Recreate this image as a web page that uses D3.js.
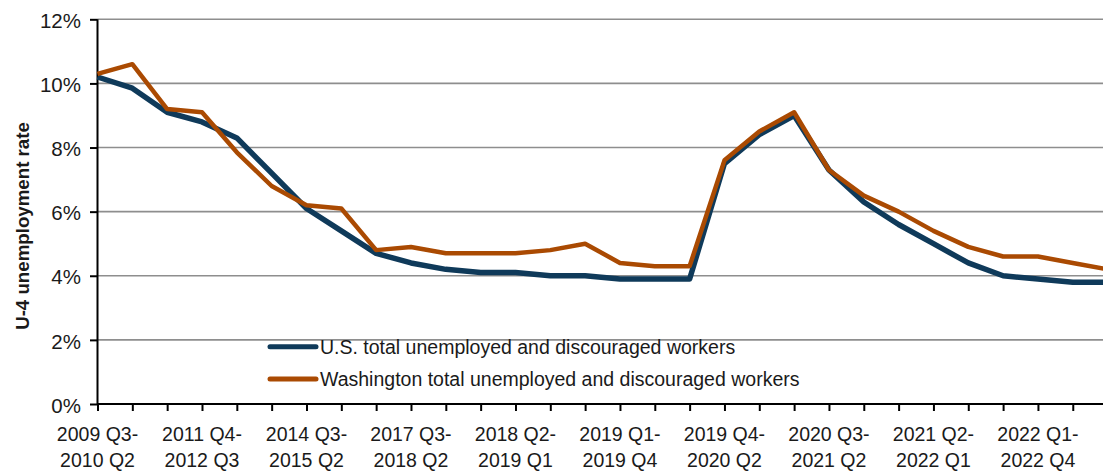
<!DOCTYPE html>
<html>
<head>
<meta charset="utf-8">
<script src="https://cdn.jsdelivr.net/npm/d3@7"></script>
<style>
  html, body { margin: 0; padding: 0; background: #fff; }
  svg { display: block; font-family: "Liberation Sans", Arial, sans-serif; }
</style>
</head>
<body>
<svg id="chart" width="1103" height="473"></svg>
<script>
// ---- Data ----
const categories = [
  "2009 Q3-2010 Q2", "2010 Q2-2011 Q1", "2011 Q1-2011 Q4",
  "2011 Q4-2012 Q3", "2012 Q4-2013 Q3", "2013 Q3-2014 Q2",
  "2014 Q3-2015 Q2", "2015 Q3-2016 Q2", "2016 Q3-2017 Q2",
  "2017 Q3-2018 Q2", "2017 Q4-2018 Q3", "2018 Q1-2018 Q4",
  "2018 Q2-2019 Q1", "2018 Q3-2019 Q2", "2018 Q4-2019 Q3",
  "2019 Q1-2019 Q4", "2019 Q2-2020 Q1", "2019 Q3-2020 Q1",
  "2019 Q4-2020 Q2", "2020 Q1-2020 Q4", "2020 Q2-2021 Q1",
  "2020 Q3-2021 Q2", "2020 Q4-2021 Q3", "2021 Q1-2021 Q4",
  "2021 Q2-2022 Q1", "2021 Q3-2022 Q2", "2021 Q4-2022 Q3",
  "2022 Q1-2022 Q4", "2022 Q2-2023 Q1", "2022 Q3-2023 Q2"
];
const usValues = [
  10.2, 9.85, 9.1, 8.8, 8.3, 7.2, 6.1, 5.4, 4.7, 4.4,
  4.2, 4.1, 4.1, 4.0, 4.0, 3.9, 3.9, 3.9, 7.5, 8.4,
  9.0, 7.3, 6.3, 5.6, 5.0, 4.4, 4.0, 3.9, 3.8, 3.8
];
const waValues = [
  10.3, 10.6, 9.2, 9.1, 7.85, 6.8, 6.2, 6.1, 4.8, 4.9,
  4.7, 4.7, 4.7, 4.8, 5.0, 4.4, 4.3, 4.3, 7.6, 8.5,
  9.1, 7.3, 6.5, 6.0, 5.4, 4.9, 4.6, 4.6, 4.4, 4.2
];
const seriesNames = [
  "U.S. total unemployed and discouraged workers",
  "Washington total unemployed and discouraged workers"
];
const yTicks = [0, 2, 4, 6, 8, 10, 12];
const labelEvery = 3;
const yTitle = "U-4 unemployment rate";

// ---- Layout ----
const svg = d3.select("#chart");
const plotLeft = 97.5, plotRight = 1107.6, plotTop = 19.3, plotBottom = 404;
const colors = ["#0f3a5a", "#aa4a02"];
const widths = [5.5, 4.5];

const x = d3.scalePoint().domain(categories).range([plotLeft, plotRight]);
const y = d3.scaleLinear().domain([0, 12]).range([plotBottom, plotTop]);

// gridlines
svg.append("g").selectAll("line")
  .data(yTicks.filter(d => d > 0))
  .join("line")
  .attr("x1", plotLeft).attr("x2", 1103)
  .attr("y1", d => y(d)).attr("y2", d => y(d))
  .attr("stroke", "#8e8e8e").attr("stroke-width", 1.6);

// y axis
const yAxis = svg.append("g").attr("transform", `translate(${plotLeft},0)`)
  .call(d3.axisLeft(y).tickValues(yTicks).tickFormat(d => d + "%").tickSize(7.5).tickPadding(9));
yAxis.select(".domain").attr("stroke", "#000").attr("stroke-width", 2).attr("d", `M0,${plotTop}V${plotBottom}`);
yAxis.selectAll(".tick line").attr("stroke", "#000").attr("stroke-width", 2);
yAxis.selectAll(".tick text")
  .attr("font-size", 20.5).attr("fill", "#1a1a1a")
  .attr("font-family", "'Liberation Sans', Arial, sans-serif")
  .attr("dy", "0.4em");

// x axis
const xAxis = svg.append("g").attr("transform", `translate(0,${plotBottom})`)
  .call(d3.axisBottom(x).tickSize(7).tickFormat(""));
xAxis.select(".domain").attr("stroke", "#000").attr("stroke-width", 2).attr("d", `M${plotLeft},0H1103`);
xAxis.selectAll(".tick line").attr("stroke", "#000").attr("stroke-width", 2);

// x tick labels (two lines)
const labelG = svg.append("g");
categories.forEach((c, i) => {
  if (i % labelEvery !== 0) return;
  const parts = c.split("-");
  const t = labelG.append("text")
    .attr("x", x(c)).attr("y", 441)
    .attr("text-anchor", "middle")
    .attr("font-size", 19.5).attr("fill", "#1a1a1a");
  t.append("tspan").attr("x", x(c)).attr("dy", 0).text(parts[0] + "-");
  t.append("tspan").attr("x", x(c)).attr("dy", 26).text(parts[1]);
});

// y title
svg.append("text")
  .attr("transform", `translate(29,226) rotate(-90)`)
  .attr("text-anchor", "middle")
  .attr("font-size", 18.7).attr("font-weight", "bold").attr("fill", "#1a1a1a")
  .text(yTitle);

// lines
const line = d3.line().x((d, i) => x(categories[i])).y(d => y(d));
[usValues, waValues].forEach((vals, k) => {
  svg.append("path")
    .datum(vals)
    .attr("d", line)
    .attr("fill", "none")
    .attr("stroke", colors[k])
    .attr("stroke-width", widths[k])
    .attr("stroke-linejoin", "round");
});

// legend
const legendY = [346.7, 379];
seriesNames.forEach((name, k) => {
  svg.append("line")
    .attr("x1", 270).attr("x2", 316)
    .attr("y1", legendY[k]).attr("y2", legendY[k])
    .attr("stroke", colors[k]).attr("stroke-width", 5)
    .attr("stroke-linecap", "round");
  svg.append("text")
    .attr("x", 320).attr("y", legendY[k]).attr("dy", "0.36em")
    .attr("font-size", 19.5).attr("fill", "#1a1a1a")
    .text(name);
});
</script>
</body>
</html>
